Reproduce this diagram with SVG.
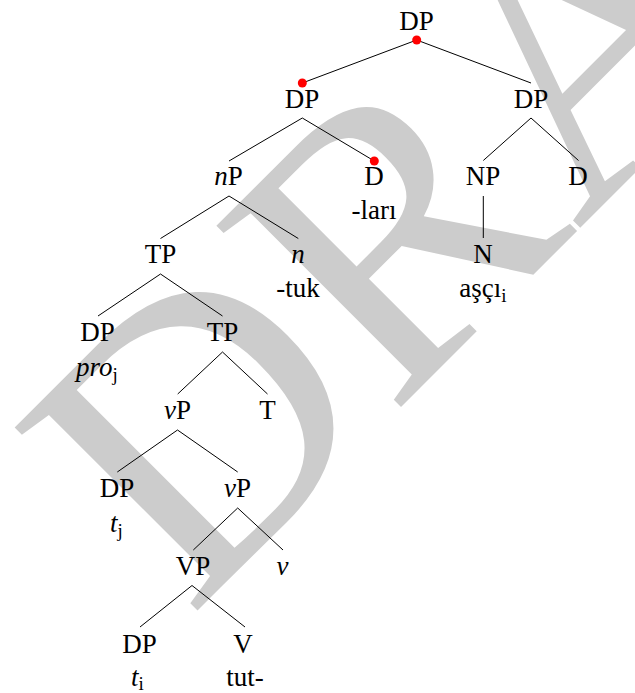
<svg xmlns="http://www.w3.org/2000/svg" width="635" height="693" viewBox="0 0 635 693">
  <style>
    text { font-family: 'Liberation Serif', Tinos, 'Times New Roman', Times, 'DejaVu Serif', serif; }
    .lbl { font-size: 27px; text-anchor: middle; fill: #000; }
    .it { font-style: italic; }
    .sub { font-size: 19px; font-style: normal; }
    .edge { stroke: #000; stroke-width: 1; fill: none; }
    .mark { fill: #ff0000; }
    .wm { font-size: 395px; fill: #cccccc; }
  </style>

  <rect width="635" height="693" fill="#ffffff"/>

  <!-- background watermark -->
  <g id="watermark">
    <text class="wm" transform="translate(189.5 618.5) rotate(-45)">DRAFT</text>
  </g>

  <!-- branches -->
  <g id="connectors">
    <line class="edge" x1="416.7" y1="40" x2="302.3" y2="83"/>
    <line class="edge" x1="416.7" y1="40" x2="531" y2="83"/>
    <line class="edge" x1="302.3" y1="118" x2="229" y2="161"/>
    <line class="edge" x1="302.3" y1="118" x2="374.3" y2="161"/>
    <line class="edge" x1="531" y1="118" x2="483.3" y2="160.5"/>
    <line class="edge" x1="531" y1="118" x2="578.5" y2="160.5"/>
    <line class="edge" x1="483.3" y1="196" x2="483.3" y2="238"/>
    <line class="edge" x1="229" y1="196" x2="160.5" y2="238.5"/>
    <line class="edge" x1="229" y1="196" x2="298.3" y2="238.5"/>
    <line class="edge" x1="160.5" y1="274" x2="98" y2="316"/>
    <line class="edge" x1="160.5" y1="274" x2="222.5" y2="316"/>
    <line class="edge" x1="222.5" y1="352" x2="177.7" y2="394"/>
    <line class="edge" x1="222.5" y1="352" x2="267.5" y2="394"/>
    <line class="edge" x1="177.5" y1="430" x2="117.3" y2="472"/>
    <line class="edge" x1="177.5" y1="430" x2="237.7" y2="472"/>
    <line class="edge" x1="237.7" y1="508" x2="193.3" y2="550"/>
    <line class="edge" x1="237.7" y1="508" x2="283" y2="550"/>
    <line class="edge" x1="192" y1="585.5" x2="140" y2="627"/>
    <line class="edge" x1="192" y1="585.5" x2="245" y2="627"/>
  </g>

  <!-- highlighted attachment points -->
  <g id="marks">
    <circle class="mark" cx="416.7" cy="40" r="4.5"/>
    <circle class="mark" cx="302.3" cy="83" r="4.5"/>
    <circle class="mark" cx="374.3" cy="161" r="4.5"/>
  </g>

  <!-- nodes -->
  <g id="dp-root"><text class="lbl" x="416.5" y="30">DP</text></g>
  <g id="dp-left"><text class="lbl" x="302" y="107.5">DP</text></g>
  <g id="dp-right"><text class="lbl" x="531" y="107.5">DP</text></g>

  <g id="nP"><text class="lbl" x="228.5" y="185"><tspan class="it">n</tspan>P</text></g>
  <g id="d-lari">
    <text class="lbl" x="374" y="185">D</text>
    <text class="lbl" x="374" y="219">-ları</text>
  </g>
  <g id="NP"><text class="lbl" x="483" y="185">NP</text></g>
  <g id="d-right"><text class="lbl" x="578" y="185">D</text></g>

  <g id="tp-upper"><text class="lbl" x="160.5" y="263">TP</text></g>
  <g id="n-tuk">
    <text class="lbl it" x="298" y="263">n</text>
    <text class="lbl" x="298" y="297">-tuk</text>
  </g>
  <g id="N-asci">
    <text class="lbl" x="483" y="263">N</text>
    <text class="lbl" x="483" y="297">aşçı<tspan class="sub" dy="5">i</tspan></text>
  </g>

  <g id="dp-pro">
    <text class="lbl" x="97.5" y="341">DP</text>
    <text class="lbl" x="97" y="376"><tspan class="it">pro</tspan><tspan class="sub" dy="5">j</tspan></text>
  </g>
  <g id="tp-lower"><text class="lbl" x="222.5" y="341">TP</text></g>

  <g id="vP-upper"><text class="lbl" x="177.5" y="419"><tspan class="it">v</tspan>P</text></g>
  <g id="T"><text class="lbl" x="267.5" y="419">T</text></g>

  <g id="dp-tj">
    <text class="lbl" x="117" y="497">DP</text>
    <text class="lbl" x="116.5" y="532"><tspan class="it">t</tspan><tspan class="sub" dy="5">j</tspan></text>
  </g>
  <g id="vP-lower"><text class="lbl" x="237.5" y="497"><tspan class="it">v</tspan>P</text></g>

  <g id="VP"><text class="lbl" x="193" y="575">VP</text></g>
  <g id="v"><text class="lbl it" x="282.5" y="575">v</text></g>

  <g id="dp-ti">
    <text class="lbl" x="139.5" y="653">DP</text>
    <text class="lbl" x="137.5" y="686"><tspan class="it">t</tspan><tspan class="sub" dy="4">i</tspan></text>
  </g>
  <g id="V-tut">
    <text class="lbl" x="243" y="653">V</text>
    <text class="lbl" x="245" y="686">tut-</text>
  </g>
</svg>
